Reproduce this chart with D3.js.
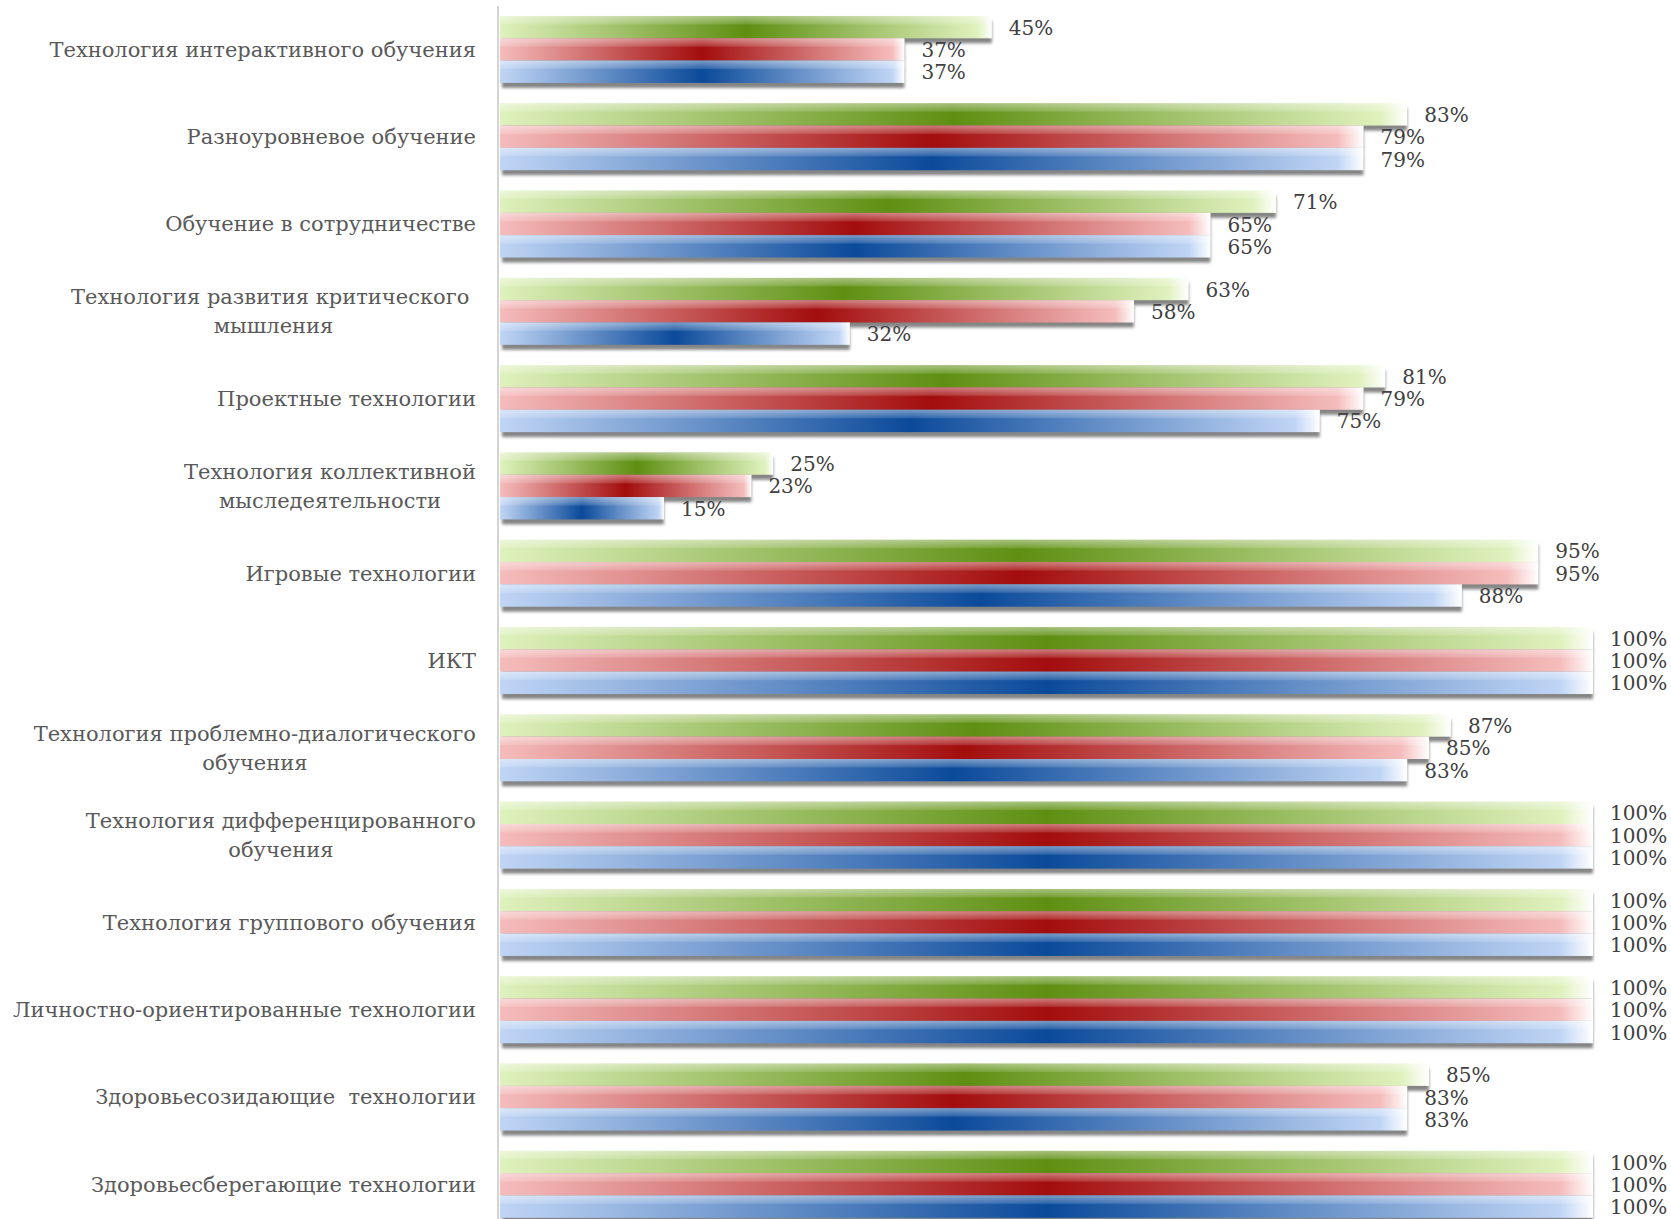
<!DOCTYPE html>
<html>
<head>
<meta charset="utf-8">
<script src="https://cdn.jsdelivr.net/npm/d3@7"></script>
<style>
  body { margin: 0; background: #fff; }
  text { font-family: "DejaVu Serif", "Liberation Serif", serif; }
</style>
</head>
<body>
<div id="chart"></div>
<script>
// categories, top to bottom
var categories = [
  ["Технология интерактивного обучения"],
  ["Разноуровневое обучение"],
  ["Обучение в сотрудничестве"],
  ["Технология развития критического ", "мышления"],
  ["Проектные технологии"],
  ["Технология коллективной", "мыследеятельности"],
  ["Игровые технологии"],
  ["ИКТ"],
  ["Технология проблемно-диалогического", "обучения"],
  ["Технология дифференцированного", "обучения"],
  ["Технология группового обучения"],
  ["Личностно-ориентированные технологии"],
  ["Здоровьесозидающие  технологии"],
  ["Здоровьесберегающие технологии"]
];

// three series (green, red, blue), percent
var greenValues = [45, 83, 71, 63, 81, 25, 95, 100, 87, 100, 100, 100, 85, 100];
var redValues   = [37, 79, 65, 58, 79, 23, 95, 100, 85, 100, 100, 100, 83, 100];
var blueValues  = [37, 79, 65, 32, 75, 15, 88, 100, 83, 100, 100, 100, 83, 100];

var seriesKeys = ["green", "red", "blue"];
var seriesValues = { green: greenValues, red: redValues, blue: blueValues };
var seriesColors = {
  green: { light: "#dff1bd", dark: "#5e8f12" },
  red:   { light: "#f5bcbc", dark: "#a30d0d" },
  blue:  { light: "#c0d5f5", dark: "#0b4a9a" }
};

var width = 1671, height = 1219;
var axisX = 498;

var svg = d3.select("#chart").append("svg")
    .attr("width", width)
    .attr("height", height);

var defs = svg.append("defs");

seriesKeys.forEach(function (k) {
  var g = defs.append("linearGradient")
      .attr("id", "grad-" + k)
      .attr("x1", 0).attr("x2", 1).attr("y1", 0).attr("y2", 0);
  g.append("stop").attr("offset", "0%").attr("stop-color", seriesColors[k].light);
  g.append("stop").attr("offset", "50%").attr("stop-color", seriesColors[k].dark);
  g.append("stop").attr("offset", "97%").attr("stop-color", seriesColors[k].light);
  g.append("stop").attr("offset", "100%").attr("stop-color", "#ffffff");
});

// top highlight
var hl = defs.append("linearGradient")
    .attr("id", "hilite")
    .attr("x1", 0).attr("x2", 0).attr("y1", 0).attr("y2", 1);
hl.append("stop").attr("offset", "0%").attr("stop-color", "#fff").attr("stop-opacity", 0.45);
hl.append("stop").attr("offset", "35%").attr("stop-color", "#fff").attr("stop-opacity", 0.15);
hl.append("stop").attr("offset", "40%").attr("stop-color", "#fff").attr("stop-opacity", 0);
hl.append("stop").attr("offset", "100%").attr("stop-color", "#fff").attr("stop-opacity", 0);

defs.append("filter").attr("id", "blur")
    .attr("x", "-5%").attr("y", "-50%").attr("width", "110%").attr("height", "200%")
  .append("feGaussianBlur").attr("stdDeviation", 1.5);

var x = d3.scaleLinear()
    .domain([0, 100])
    .range([axisX + 2, 1593]);

var y = d3.scaleBand()
    .domain(d3.range(categories.length))
    .range([5.8, 5.8 + 14 * 87.3])
    .paddingInner(0.233)
    .paddingOuter(0.1165);

var ySub = d3.scaleBand()
    .domain(seriesKeys)
    .range([0, y.bandwidth()]);

// axis line
svg.append("line")
    .attr("x1", axisX).attr("x2", axisX)
    .attr("y1", 6).attr("y2", height)
    .attr("stroke", "#d4d4d4")
    .attr("stroke-width", 2);

var groups = svg.selectAll("g.group")
  .data(categories)
  .enter().append("g")
    .attr("class", "group")
    .attr("transform", function (d, i) { return "translate(0," + y(i) + ")"; });

// shadows first
groups.each(function (d, i) {
  var g = d3.select(this);
  seriesKeys.forEach(function (k) {
    var v = seriesValues[k][i];
    g.append("rect")
        .attr("x", x(0) + 2)
        .attr("y", ySub(k) + 5)
        .attr("width", x(v) - x(0) - 2)
        .attr("height", ySub.bandwidth())
        .attr("fill", "#707070")
        .attr("opacity", 0.85)
        .attr("filter", "url(#blur)");
  });
});

groups.each(function (d, i) {
  var g = d3.select(this);
  seriesKeys.forEach(function (k) {
    var v = seriesValues[k][i];
    g.append("rect")
        .attr("x", x(0))
        .attr("y", ySub(k))
        .attr("width", x(v) - x(0))
        .attr("height", ySub.bandwidth())
        .attr("fill", "url(#grad-" + k + ")");
    g.append("rect")
        .attr("x", x(0))
        .attr("y", ySub(k))
        .attr("width", x(v) - x(0))
        .attr("height", ySub.bandwidth())
        .attr("fill", "url(#hilite)");
  });
});

// value labels
groups.each(function (d, i) {
  var g = d3.select(this);
  seriesKeys.forEach(function (k) {
    var v = seriesValues[k][i];
    g.append("text")
        .attr("x", x(v) + 17)
        .attr("y", ySub(k) + ySub.bandwidth() / 2 + 2)
        .attr("dominant-baseline", "middle")
        .attr("font-size", 20)
        .attr("fill", "#404040")
        .text(v + "%");
  });
});

// category labels: block right aligned, lines centred on each other
var labelRight = 476;
groups.each(function (d, i) {
  var g = d3.select(this);
  var t = g.append("text")
      .attr("font-size", 21)
      .attr("fill", "#595959")
      .attr("text-anchor", "middle")
      .style("white-space", "pre");
  var spans = d.map(function (line) {
    return t.append("tspan").text(line);
  });
  var maxW = d3.max(spans, function (s) { return s.node().getComputedTextLength(); });
  var cx = labelRight - maxW / 2;
  var lh = 29;
  var cy = y.bandwidth() / 2 - (d.length - 1) * lh / 2;
  spans.forEach(function (s, j) {
    s.attr("x", cx).attr("y", cy + j * lh).attr("dy", "0.35em");
  });
});
</script>
</body>
</html>
